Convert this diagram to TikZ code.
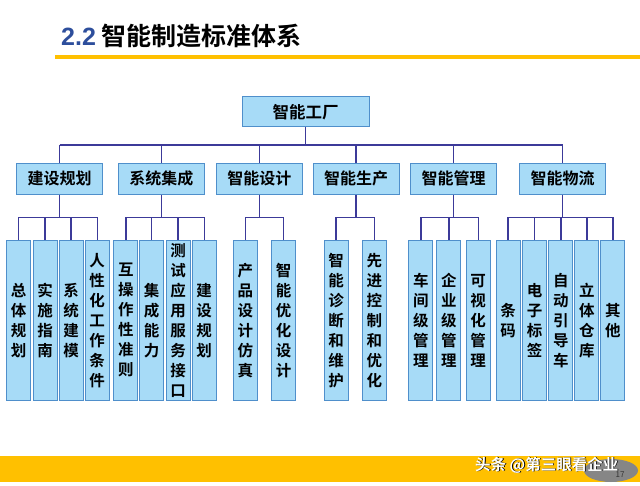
\documentclass[tikz,border=0pt]{standalone}
\usepackage{fontspec}
\setmainfont{Noto Sans CJK SC}[BoldFont={Noto Sans CJK SC Bold}]
\newfontfamily\latinb{Liberation Sans}[BoldFont={Liberation Sans Bold}]
\definecolor{boxfill}{RGB}{167,219,247}
\definecolor{boxdraw}{RGB}{79,143,203}
\definecolor{connc}{RGB}{60,58,153}
\definecolor{barc}{RGB}{255,192,0}
\definecolor{titleblue}{RGB}{45,78,156}
\tikzset{
  conn/.style={draw=connc,line width=1.2pt},
  topbox/.style={draw=boxdraw,fill=boxfill,line width=1pt,minimum width=127pt,minimum height=30pt,inner sep=0pt,font=\bfseries\fontsize{16.5}{18}\selectfont},
  midbox/.style={draw=boxdraw,fill=boxfill,line width=1pt,minimum width=86pt,minimum height=31pt,inner sep=0pt,font=\bfseries\fontsize{16}{18}\selectfont},
  leaf/.style={draw=boxdraw,fill=boxfill,line width=1pt,minimum width=24pt,minimum height=160.5pt,inner sep=0pt,align=center,font=\bfseries\fontsize{15.5}{20}\selectfont},
}
\begin{document}
\begin{tikzpicture}[x=1pt,y=-1pt]
\useasboundingbox (0,0) rectangle (640,486);
\fill[white] (0,0) rectangle (640,486);
% title
\node[anchor=west,inner sep=0pt,font=\bfseries\fontsize{25}{27}\selectfont] (title) at (61,36)
  {{\latinb\color{titleblue}2.2} 智能制造标准体系};
\fill[barc] (55,55.5) rectangle (640,59.5);
% root
\node[topbox] (root) at (305.5,112) {智能工厂};
\coordinate (bus1) at (0,145);
\coordinate (bus2) at (0,217.3);
% level 2
\node[midbox] (g1) at (59.7,178.7) {建设规划};
\node[midbox] (g2) at (161.3,178.7) {系统集成};
\node[midbox] (g3) at (259.3,178.7) {智能设计};
\node[midbox] (g4) at (356,178.7) {智能生产};
\node[midbox] (g5) at (453.7,178.7) {智能管理};
\node[midbox] (g6) at (562.7,178.7) {智能物流};
% leaves
\node[leaf] (l1) at (18.7,320.4) {总\\体\\规\\划};
\node[leaf] (l2) at (45,320.4) {实\\施\\指\\南};
\node[leaf] (l3) at (71,320.4) {系\\统\\建\\模};
\node[leaf] (l4) at (97.2,320.4) {人\\性\\化\\工\\作\\条\\件};
\node[leaf] (l5) at (125.9,320.4) {互\\操\\作\\性\\准\\则};
\node[leaf] (l6) at (151.7,320.4) {集\\成\\能\\力};
\node[leaf] (l7) at (178,320.4) {测\\试\\应\\用\\服\\务\\接\\口};
\node[leaf] (l8) at (204.2,320.4) {建\\设\\规\\划};
\node[leaf] (l9) at (245.3,320.4) {产\\品\\设\\计\\仿\\真};
\node[leaf] (l10) at (283.7,320.4) {智\\能\\优\\化\\设\\计};
\node[leaf] (l11) at (336,320.4) {智\\能\\诊\\断\\和\\维\\护};
\node[leaf] (l12) at (374.3,320.4) {先\\进\\控\\制\\和\\优\\化};
\node[leaf] (l13) at (420.9,320.4) {车\\间\\级\\管\\理};
\node[leaf] (l14) at (448.9,320.4) {企\\业\\级\\管\\理};
\node[leaf] (l15) at (478.2,320.4) {可\\视\\化\\管\\理};
\node[leaf] (l16) at (508,320.4) {条\\码};
\node[leaf] (l17) at (534.5,320.4) {电\\子\\标\\签};
\node[leaf] (l18) at (560.9,320.4) {自\\动\\引\\导\\车};
\node[leaf] (l19) at (586.9,320.4) {立\\体\\仓\\库};
\node[leaf] (l20) at (612.9,320.4) {其\\他};
% connectors level 1
\draw[conn] (root.south) -- (root.south |- bus1);
\draw[conn] (g1.north |- bus1) -- (g6.north |- bus1);
\foreach \g in {g1,g2,g3,g4,g5,g6}{
  \draw[conn] (\g.north) -- (\g.north |- bus1);
  \draw[conn] (\g.south) -- (\g.south |- bus2);
}
% group buses
\draw[conn] (l1.north |- bus2) -- (l4.north |- bus2);
\draw[conn] (l5.north |- bus2) -- (l8.north |- bus2);
\draw[conn] (l9.north |- bus2) -- (l10.north |- bus2);
\draw[conn] (l11.north |- bus2) -- (l12.north |- bus2);
\draw[conn] (l13.north |- bus2) -- (l15.north |- bus2);
\draw[conn] (l16.north |- bus2) -- (l20.north |- bus2);
\foreach \k in {1,...,20}{
  \draw[conn] (l\k.north) -- (l\k.north |- bus2);
}
% bottom bar
\fill[barc] (0,456) rectangle (640,481.7);
\fill[gray!95] (611,470.5) ellipse (27pt and 11.5pt);
\node[inner sep=0pt,font=\fontsize{8}{9}\selectfont,text=black!80] (pg) at (620,475) {17};
\node[anchor=west,inner sep=0pt,font=\bfseries\fontsize{15.5}{17}\selectfont,text=black] (wm0) at (475.8,465.8) {头条 @第三眼看企业};
\node[anchor=west,inner sep=0pt,font=\bfseries\fontsize{15.5}{17}\selectfont,text=white] (wm) at (475,465) {头条 @第三眼看企业};
\end{tikzpicture}
\end{document}
